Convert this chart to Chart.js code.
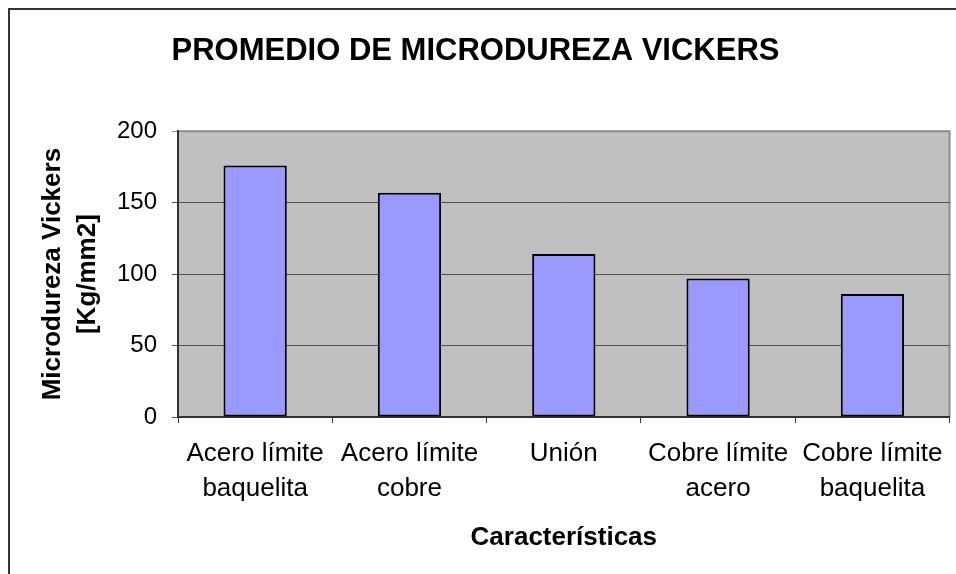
<!DOCTYPE html>
<html>
<head>
<meta charset="utf-8">
<script src="https://cdn.jsdelivr.net/npm/chart.js@4/dist/chart.umd.min.js"></script>
<style>
  html, body { margin: 0; padding: 0; background: #fff; }
  canvas { display: block; }
</style>
</head>
<body>
<canvas id="chartOne" width="956" height="574"></canvas>
<script>
let categories = [
    ['Acero límite', 'baquelita'],
    ['Acero límite', 'cobre'],
    'Unión',
    ['Cobre límite', 'acero'],
    ['Cobre límite', 'baquelita']
];
let hardness = [176, 157, 114, 97, 86];
let yTicks = [0, 50, 100, 150, 200];

const fontFamily = "'Liberation Sans', Arial, sans-serif";

// grey plot area plus the frame around the whole chart
const plotBackground = {
    id: 'plotBackground',
    beforeDraw(chart) {
        const ctx = chart.ctx;
        const a = chart.chartArea;
        ctx.save();
        ctx.fillStyle = '#fff';
        ctx.fillRect(0, 0, chart.width, chart.height);
        ctx.fillStyle = '#c0c0c0';
        ctx.fillRect(a.left, a.top, a.right - a.left, a.bottom - a.top);
        ctx.strokeStyle = '#8c8c8c';
        ctx.lineWidth = 2;
        ctx.beginPath();
        ctx.moveTo(a.left, a.top);
        ctx.lineTo(a.right, a.top);
        ctx.lineTo(a.right, a.bottom);
        ctx.stroke();
        ctx.restore();
    },
    afterDraw(chart) {
        const ctx = chart.ctx;
        ctx.save();
        ctx.strokeStyle = '#333';
        ctx.lineWidth = 2;
        ctx.strokeRect(9, 9, chart.width + 20, chart.height + 20);
        ctx.restore();
    }
};

let hardnessChart = new Chart(document.getElementById('chartOne').getContext('2d'), {
    type: 'bar',
    data: {
        labels: categories,
        datasets: [{
            label: 'Microdureza Vickers',
            data: hardness,
            backgroundColor: '#9999ff',
            borderColor: '#000',
            borderWidth: 2,
            borderSkipped: false,
            barPercentage: 0.41,
            categoryPercentage: 1
        }]
    },
    options: {
        responsive: false,
        animation: false,
        layout: { padding: { left: 0, right: 5, top: 0, bottom: 0 } },
        plugins: {
            legend: { display: false },
            tooltip: { enabled: false },
            title: {
                display: true,
                text: 'PROMEDIO DE MICRODUREZA VICKERS',
                color: '#000',
                font: { family: fontFamily, size: 31, weight: 'bold', lineHeight: 1.2 },
                padding: { top: 33, bottom: 61 }
            }
        },
        scales: {
            x: {
                grid: {
                    drawOnChartArea: false,
                    drawTicks: true,
                    tickLength: 6,
                    color: '#333',
                    lineWidth: 1
                },
                border: { color: '#333', width: 2 },
                ticks: {
                    color: '#000',
                    padding: 13,
                    maxRotation: 0,
                    autoSkip: false,
                    font: { family: fontFamily, size: 26, lineHeight: 1.35 }
                },
                title: {
                    display: true,
                    text: 'Características',
                    color: '#000',
                    font: { family: fontFamily, size: 26, weight: 'bold', lineHeight: 1.2 },
                    padding: { top: 0, bottom: 21 }
                },
                afterFit(scale) { scale.height = 157; }
            },
            y: {
                min: 0,
                max: 200,
                afterBuildTicks(scale) { scale.ticks = yTicks.map(v => ({ value: v })); },
                grid: {
                    tickLength: 6,
                    color: ctx => (ctx.tick && ctx.tick.value === 200 ? '#8c8c8c' : '#505050'),
                    lineWidth: 1
                },
                border: { color: '#333', width: 2 },
                ticks: {
                    color: '#000',
                    padding: 15,
                    font: { family: fontFamily, size: 24 }
                },
                title: {
                    display: true,
                    text: ['Microdureza Vickers', '[Kg/mm2]'],
                    color: '#000',
                    font: { family: fontFamily, size: 26, weight: 'bold', lineHeight: 1.35 },
                    padding: { top: 35, bottom: 0 }
                },
                afterFit(scale) { scale.width = 178; }
            }
        }
    },
    plugins: [plotBackground]
});
</script>
</body>
</html>
